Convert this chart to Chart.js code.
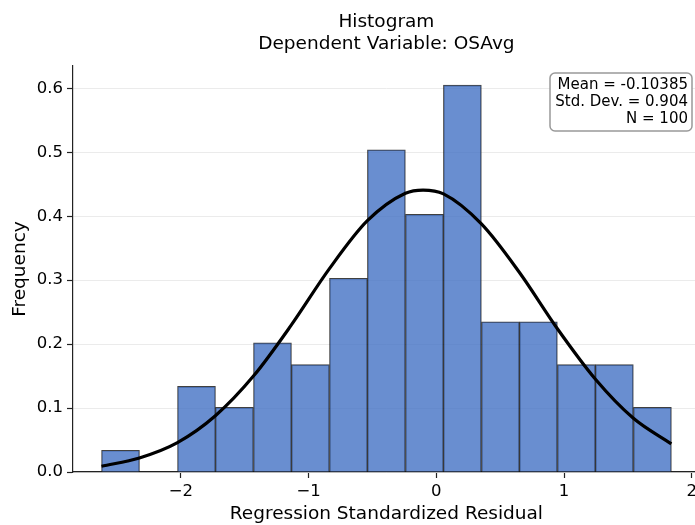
<!DOCTYPE html>
<html>
<head>
<meta charset="utf-8">
<script src="https://cdn.jsdelivr.net/npm/chart.js@4.4.1/dist/chart.umd.min.js"></script>
<style>
  html, body { margin: 0; padding: 0; background: #fff; overflow: hidden; }
  #wrap { width: 701px; height: 525px; }
</style>
</head>
<body>
<div id="wrap"><canvas id="myChart"></canvas></div>
<script>
// histogram bins (centres) and their frequency (density)
const binCenters = [-2.473, -2.176, -1.878, -1.581, -1.283, -0.986, -0.688, -0.391, -0.093, 0.204, 0.502, 0.799, 1.097, 1.394, 1.692];
const frequency  = [0.034, null, 0.134, 0.101, 0.202, 0.168, 0.303, 0.504, 0.403, 0.605, 0.235, 0.235, 0.168, 0.168, 0.101];

// normal curve
const curveX = [-2.622, -2.325, -2.027, -1.730, -1.432, -1.135, -0.837, -0.540, -0.242, -0.104, 0.056, 0.353, 0.651, 0.948, 1.246, 1.543, 1.840];
const curveY = [0.009, 0.022, 0.046, 0.088, 0.150, 0.230, 0.318, 0.393, 0.436, 0.441, 0.435, 0.388, 0.312, 0.224, 0.145, 0.084, 0.044];

const xTicks = [-2, -1, 0, 1, 2];
const yTicks = [0.0, 0.1, 0.2, 0.3, 0.4, 0.5, 0.6];

const titleLines = ['Histogram', 'Dependent Variable: OSAvg'];
const statLines = ['Mean = -0.10385', 'Std. Dev. = 0.904', 'N = 100'];

const FONT = "'DejaVu Sans', sans-serif";
Chart.defaults.font.family = FONT;
Chart.defaults.color = '#000000';

const headerPlugin = {
  id: 'header',
  afterDraw(chart) {
    const c = chart.ctx;
    const a = chart.chartArea;
    c.save();
    c.fillStyle = '#000';
    c.font = '18.5px ' + FONT;
    c.textAlign = 'center';
    c.textBaseline = 'middle';
    const cx = (a.left + a.right) / 2;
    c.fillText(titleLines[0], cx, 22);
    c.fillText(titleLines[1], cx, 44);

    // stats box
    const bx = 550, by = 73, bw = 142, bh = 58, r = 5;
    c.beginPath();
    c.moveTo(bx + r, by);
    c.arcTo(bx + bw, by, bx + bw, by + bh, r);
    c.arcTo(bx + bw, by + bh, bx, by + bh, r);
    c.arcTo(bx, by + bh, bx, by, r);
    c.arcTo(bx, by, bx + bw, by, r);
    c.closePath();
    c.fillStyle = '#fff';
    c.fill();
    c.strokeStyle = '#999';
    c.lineWidth = 1.5;
    c.stroke();
    c.fillStyle = '#000';
    c.font = '15px ' + FONT;
    c.textAlign = 'right';
    statLines.forEach((t, i) => c.fillText(t, 688, 85 + i * 17));
    c.restore();
  }
};

const fmtX = v => v < 0 ? '\u2212' + Math.abs(v) : String(v);

const ctx = document.getElementById('myChart').getContext('2d');
const myChart = new Chart(ctx, {
  type: 'bar',
  data: {
    datasets: [{
      type: 'line',
      data: curveX.map((x, i) => ({x: x, y: curveY[i]})),
      borderColor: '#000',
      borderWidth: 3.2,
      pointRadius: 0,
      cubicInterpolationMode: 'monotone',
      fill: false,
      order: 1
    }, {
      type: 'bar',
      data: binCenters.map((x, i) => ({x: x, y: frequency[i]})),
      backgroundColor: 'rgba(68, 114, 196, 0.8)',
      borderColor: 'rgba(0, 0, 0, 0.75)',
      borderWidth: 1,
      borderSkipped: 'start',
      barPercentage: 1,
      categoryPercentage: 1,
      grouped: false,
      order: 2
    }]
  },
  options: {
    responsive: true,
    maintainAspectRatio: false,
    animation: false,
    layout: { padding: { top: 66, right: 0, left: 0, bottom: 0 } },
    plugins: {
      legend: { display: false },
      tooltip: { enabled: false }
    },
    scales: {
      x: {
        type: 'linear',
        offset: false,
        min: -2.845,
        max: 2.063,
        afterBuildTicks: s => { s.ticks = xTicks.map(v => ({value: v})); },
        afterFit: s => { s.height = 53; },
        ticks: { font: { size: 16.5 }, padding: 4, maxRotation: 0, callback: fmtX },
        grid: { offset: false, drawOnChartArea: false, tickLength: 6, tickColor: '#222', tickWidth: 1.2 },
        border: { color: '#222', width: 1.2 },
        title: { display: true, text: 'Regression Standardized Residual', font: { size: 18.5 }, padding: { top: 0, bottom: 0 } }
      },
      y: {
        min: 0,
        max: 0.635,
        afterBuildTicks: s => { s.ticks = yTicks.map(v => ({value: v})); },
        afterFit: s => { s.width = 73; },
        ticks: { font: { size: 16.5 }, padding: 4, callback: v => v.toFixed(1) },
        grid: { color: '#ebebeb', lineWidth: 1, tickLength: 6, tickColor: '#222', tickWidth: 1.2 },
        border: { color: '#222', width: 1.2 },
        title: { display: true, text: 'Frequency', font: { size: 18.5 }, padding: { top: 9, bottom: 0 } }
      }
    }
  },
  plugins: [headerPlugin]
});
</script>
</body>
</html>
